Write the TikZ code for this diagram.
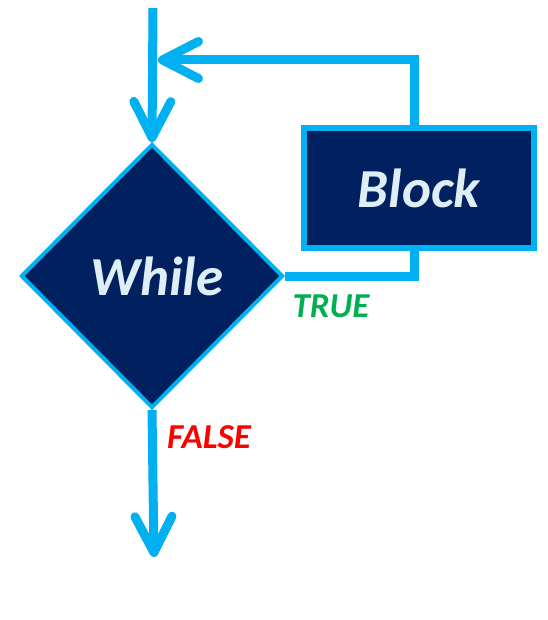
\documentclass[tikz,border=0pt]{standalone}
\usepackage{fontspec}
\setmainfont{Carlito}
\usetikzlibrary{arrows.meta, calc, positioning, shapes.geometric}
\def\flowcolor{flowblue}
\def\boxfillcolor{boxnavy}
\def\boxtextcolor{boxtext}
\def\flowwidth{9pt}
\def\tiplength{36pt}
\def\tipwidth{37pt}
\definecolor{flowblue}{HTML}{00B0F0}
\definecolor{boxnavy}{HTML}{002060}
\definecolor{boxtext}{HTML}{DDEEF5}
\definecolor{truegreen}{HTML}{00B050}
\definecolor{falsered}{HTML}{FF0000}
\tikzset{
	% texts
	box_text/.style={
		font=\fontsize{55}{62}\selectfont\bfseries\itshape,
		text=\boxtextcolor,
	},
	branch_label/.style={
		font=\fontsize{35}{40}\selectfont\bfseries\itshape,
		inner sep=0,
	},
	% decision
	decision/.style={
		box_text,
		diamond,
		draw=\flowcolor,
		fill=\boxfillcolor,
		line width=4pt,
		inner sep=0,
		minimum width=262pt,
		minimum height=264pt,
	},
	% block
	block/.style={
		box_text,
		rectangle,
		draw=\flowcolor,
		fill=\boxfillcolor,
		line width=6pt,
		minimum width=230pt,
		minimum height=119pt,
	},
	% connections
	flow/.style={
		draw=\flowcolor,
		line width=\flowwidth,
		line join=miter,
	},
	flow_arrow/.style={
		flow,
		-{Straight Barb[length=\tiplength, width=\tipwidth, line cap=round, line join=round]},
	},
}
\begin{document}
\begin{tikzpicture}[x=1pt, y=-1pt]
	\useasboundingbox (0,0) rectangle (547,620);

	% While
	\node[decision] (while) at (152,276) {\hspace{10pt}While};
	% Block
	\node[block] (block) at (419,188) {Block};

	% Entry and exit
	\coordinate (entry) at (153,8);
	\coordinate (exit) at (154,557);
	\coordinate (loop_join) at (158,60);

	% Labels
	\node[
		branch_label,
		text=truegreen,
	] (true_label) at ($(while.east) + (46,30)$) {TRUE};
	\node[
		branch_label,
		text=falsered,
	] (false_label) at ($(while.south) + (57,27)$) {FALSE};

	% Connections
	\draw[flow_arrow] (entry) -- (while.north);
	\draw[flow] (while.east) -| ([xshift=-5pt]block.south);
	\draw[flow_arrow] ([xshift=-5pt]block.north) |- (loop_join);
	\draw[flow_arrow] (while.south) -- (exit);
\end{tikzpicture}
\end{document}
